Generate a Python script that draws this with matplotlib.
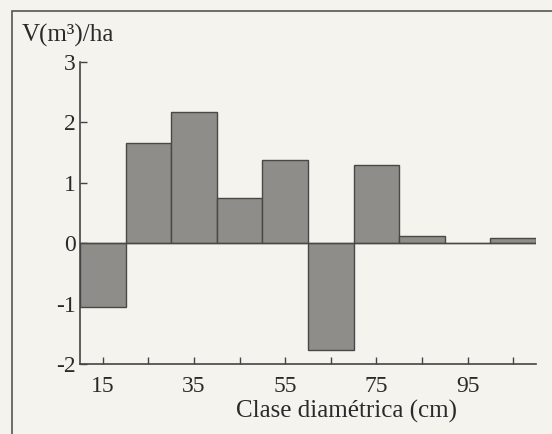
import matplotlib
matplotlib.use("Agg")
import matplotlib.pyplot as plt
from matplotlib.patches import Rectangle

classes = [15, 25, 35, 45, 55, 65, 75, 85, 95, 105]
volumes = [-1.05, 1.66, 2.17, 0.75, 1.37, -1.77, 1.29, 0.12, 0.01, 0.08]
xticks_labeled = [15, 35, 55, 75, 95]
xticks_all = [15, 25, 35, 45, 55, 65, 75, 85, 95, 105]
yticks = [-2, -1, 0, 1, 2, 3]

bg = "#f5f3ed"
plt.rcParams['font.family'] = ['Liberation Serif', 'DejaVu Serif']

fig = plt.figure(figsize=(5.52, 4.34), dpi=100, facecolor=bg)
ax = fig.add_axes([80/552, 1 - 364/434, (536-80)/552, (364-62)/434])
ax.set_facecolor(bg)

ax.bar(classes, volumes, width=10, color="#8f8d8a", edgecolor="#4a4846", linewidth=1.0, zorder=2)
ax.axhline(0, color="#4a4846", linewidth=1.0, zorder=3)

ax.set_xlim(10, 110)
ax.set_ylim(-2, 3)
ax.set_yticks(yticks)
ax.set_yticklabels([str(v) for v in yticks], fontsize=17, color="#2a2a2a")
ax.set_xticks(xticks_all)
ax.set_xticklabels([str(v) if v in xticks_labeled else "" for v in xticks_all], fontsize=17, color="#2a2a2a")
ax.tick_params(axis='both', direction='in', length=5, width=1, colors="#444", labelcolor="#2a2a2a")
ax.tick_params(axis='y', pad=3)
ax.tick_params(axis='x', pad=9)
for s in ['top', 'right']:
    ax.spines[s].set_visible(False)
for s in ['left', 'bottom']:
    ax.spines[s].set_color("#444")
    ax.spines[s].set_linewidth(1.2)

fig.text(22/552, 1 - 35/434, "V(m³)/ha", fontsize=18, color="#2a2a2a", va='center', ha='left')
fig.text(347/552, 1 - 411/434, "Clase diamétrica (cm)", fontsize=18, color="#2a2a2a", va='center', ha='center')

# outer frame
fig.add_artist(Rectangle((12/552, -0.1), 1.2, 1 - 11/434 + 0.1, transform=fig.transFigure,
                         fill=False, edgecolor="#555", linewidth=1.2))

fig.savefig("out.png", dpi=100, facecolor=bg)
